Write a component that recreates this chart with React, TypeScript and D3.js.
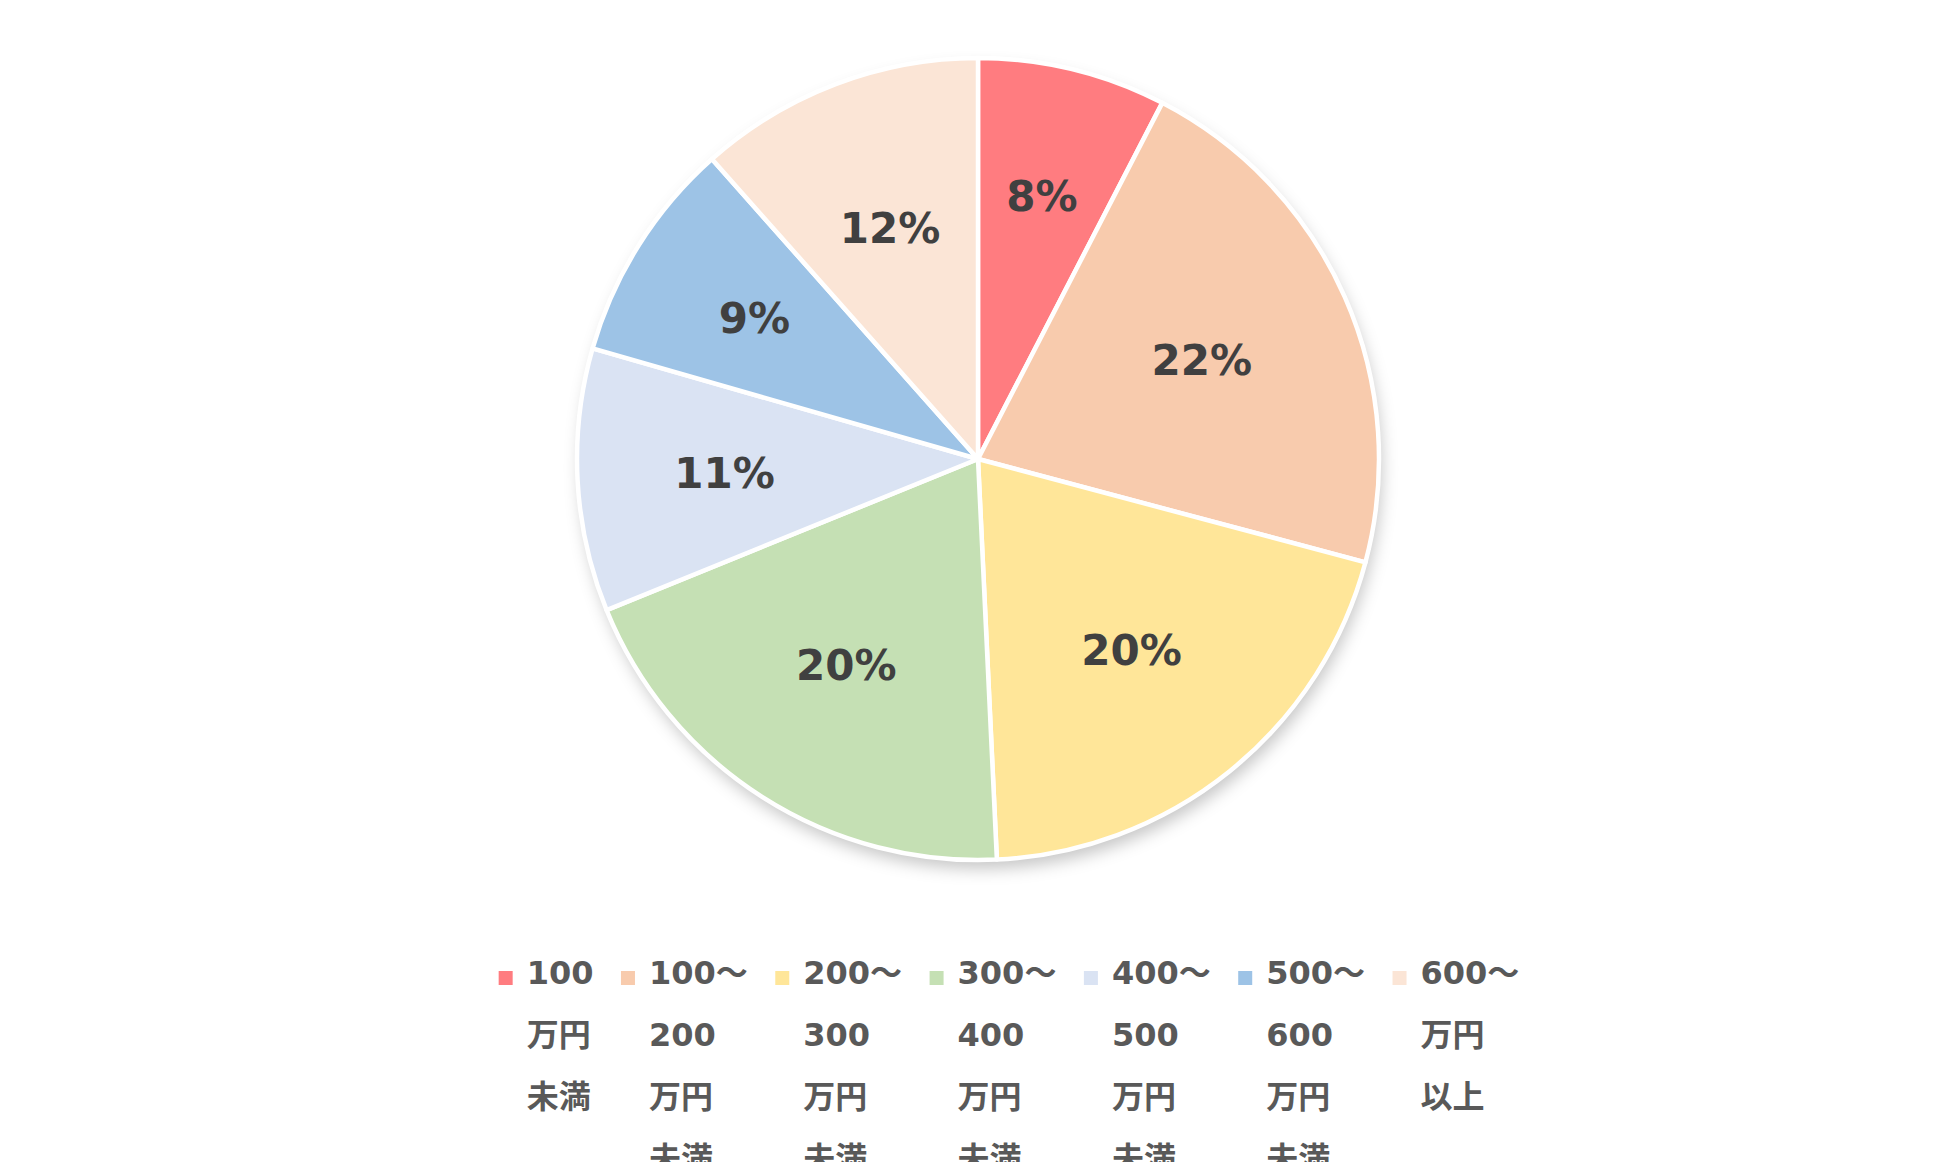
import React, { useEffect, useRef } from "react";
import * as d3 from "d3";

const categories = [
  "100万円未満",
  "100～200万円未満",
  "200～300万円未満",
  "300～400万円未満",
  "400～500万円未満",
  "500～600万円未満",
  "600～万円以上",
];
const shares = [7.6, 21.55, 20.1, 19.6, 10.6, 9.0, 11.55];
const colors = ["#FF7C80", "#F8CBAD", "#FFE699", "#C5E0B4", "#DAE3F3", "#9DC3E6", "#FBE5D6"];

const W = 1954;
const H = 1162;

function wrap(s: string): string[] {
  return s.match(/\d+～?|万円|未満|以上/g) || [s];
}

export default function App() {
  const ref = useRef<SVGSVGElement | null>(null);
  useEffect(() => {
    const svg = d3.select(ref.current);
    svg.selectAll("*").remove();
    const cx = 978, cy = 459, r = 401;

    const defs = svg.append("defs");
    const f = defs.append("filter").attr("id", "shadow").attr("x", "-20%").attr("y", "-20%").attr("width", "140%").attr("height", "140%");
    f.append("feDropShadow").attr("dx", 3).attr("dy", 9).attr("stdDeviation", 8).attr("flood-color", "#000").attr("flood-opacity", 0.22);

    const g = svg.append("g").attr("transform", `translate(${cx},${cy})`);
    g.append("circle").attr("r", r).attr("fill", "#fff").attr("filter", "url(#shadow)");

    const pie = d3.pie<number>().sort(null).value((d) => d);
    const arcs = pie(shares);
    const arc = d3.arc<d3.PieArcDatum<number>>().innerRadius(0).outerRadius(r);
    g.selectAll("path.slice")
      .data(arcs)
      .join("path")
      .attr("class", "slice")
      .attr("d", arc)
      .attr("fill", (_, i) => colors[i])
      .attr("stroke", "#fff")
      .attr("stroke-width", 4.5)
      .attr("stroke-linejoin", "round");

    const total = d3.sum(shares);
    g.selectAll("text.lbl")
      .data(arcs)
      .join("text")
      .attr("class", "lbl")
      .attr("transform", (d) => {
        const pct = (d.value / total) * 100;
        const t = Math.max(0, Math.min(1, (12 - pct) / 4));
        const lr = r * (0.61 + 0.065 * t);
        const a = (d.startAngle + d.endAngle) / 2;
        return `translate(${lr * Math.sin(a)},${-lr * Math.cos(a)})`;
      })
      .attr("text-anchor", "middle")
      .attr("dy", "0.36em")
      .attr("font-family", "'DejaVu Sans', Verdana, sans-serif")
      .attr("font-weight", "bold")
      .attr("font-size", 42)
      .attr("fill", "#404040")
      .text((d) => `${Math.round((d.value / total) * 100)}%`);

    // legend
    const lg = svg.append("g");
    const fontSize = 32;
    const lineH = 62;
    const baseY = 984;
    const items = categories.map((c, i) => {
      const grp = lg.append("g");
      const lines = wrap(c);
      let maxW = 0;
      lines.forEach((ln, k) => {
        const t = grp
          .append("text")
          .attr("x", 28)
          .attr("y", baseY + k * lineH)
          .attr("font-family", "'DejaVu Sans', 'Noto Sans CJK JP', sans-serif")
          .attr("font-weight", "bold")
          .attr("font-size", fontSize)
          .attr("fill", "#595959")
          .text(ln);
        const node = t.node() as SVGTextElement;
        maxW = Math.max(maxW, node.getComputedTextLength());
      });
      grp.append("rect").attr("x", 0).attr("y", 971).attr("width", 14).attr("height", 14).attr("fill", colors[i]);
      return { grp, w: 28 + maxW };
    });
    const gap = 27.5;
    const totalW = d3.sum(items, (d) => d.w) + gap * (items.length - 1);
    let x = 1009 - totalW / 2;
    items.forEach((it) => {
      it.grp.attr("transform", `translate(${x},0)`);
      x += it.w + gap;
    });
  }, []);

  return (
    <svg
      ref={ref}
      width={W}
      height={H}
      style={{ position: "absolute", left: 0, top: 0, background: "#fff" }}
    />
  );
}
